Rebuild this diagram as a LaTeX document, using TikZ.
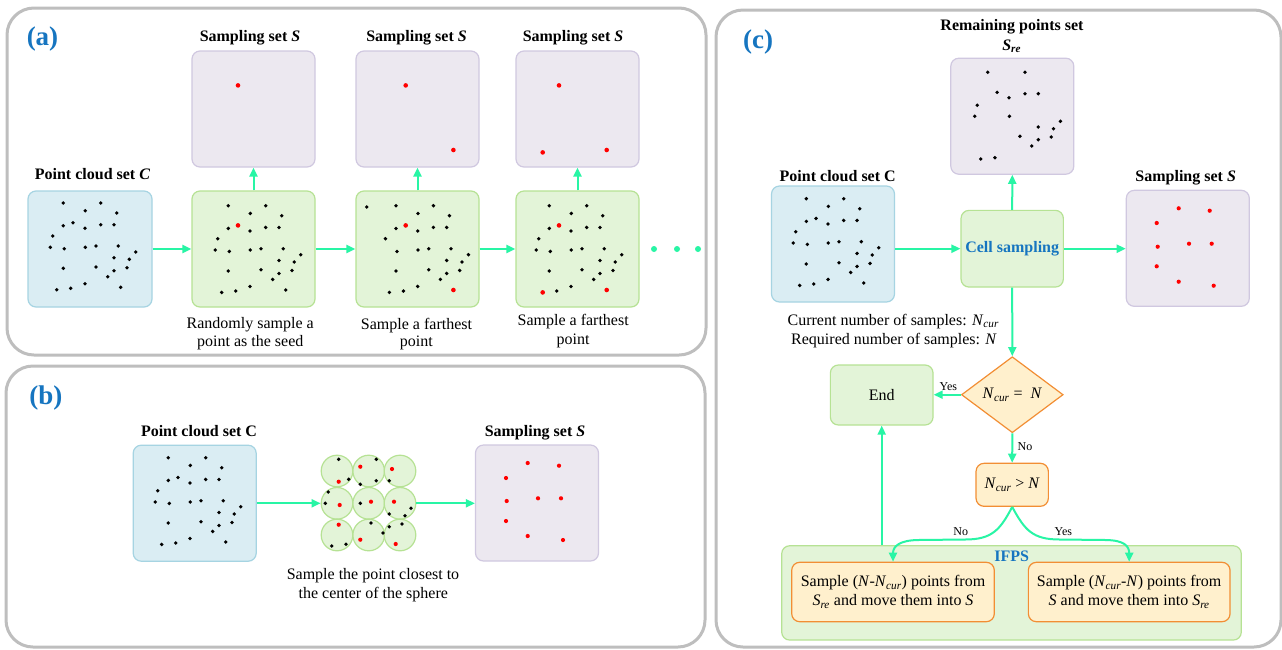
\documentclass[tikz,border=0pt]{standalone}
\usepackage{fontspec}
\setmainfont{Liberation Serif}
\usetikzlibrary{arrows.meta,shapes.geometric,calc}
\definecolor{panelgray}{RGB}{190,190,190}
\definecolor{bluefill}{RGB}{218,237,243}
\definecolor{blueedge}{RGB}{166,212,226}
\definecolor{greenfill}{RGB}{227,244,216}
\definecolor{greenedge}{RGB}{182,226,148}
\definecolor{purplefill}{RGB}{236,232,240}
\definecolor{purpleedge}{RGB}{208,200,224}
\definecolor{orangefill}{RGB}{255,240,205}
\definecolor{orangeedge}{RGB}{242,142,52}
\definecolor{arrowc}{RGB}{40,245,165}
\definecolor{labelblue}{RGB}{22,117,192}
\definecolor{redpt}{RGB}{255,0,0}
\newcommand{\Ncur}{\textit{N}\textsubscript{\textit{cur}}}
\newcommand{\Sre}{\textit{S}\textsubscript{\textit{re}}}
\def\cloudpts{35.3/12, 72.7/12, 57.3/19.7, 88.7/22, 45/31.7, 35.3/34.7, 57/37.3, 72.7/33.7, 86/33.7, 24.7/45, 22.3/56.3, 36.3/57.7, 57.3/56.3, 68/55, 90.3/55, 107.7/61, 86/66.7, 101.3/68.3, 35.3/77.3, 68/76, 86/79.7, 99/76.7, 79.7/85.7, 57/92.7, 28.7/98.7, 42.7/97.3, 92.7/96.3}
\newcommand{\ptcloud}[3]{%
  \begin{scope}[shift={(#1,#2)}]
  \foreach \px/\py [count=\k] in \cloudpts {\ifnum\k=#3\relax\else\fill[black] (\px,\py) circle (1.9pt);\fi}
  \end{scope}}
\tikzset{
  panel/.style={draw=panelgray, line width=3pt, rounded corners=27pt},
  box/.style={rounded corners=8pt, line width=1.2pt, inner sep=0pt, minimum width=123pt, minimum height=116pt},
  bluebx/.style={box, draw=blueedge, fill=bluefill},
  greenbx/.style={box, draw=greenedge, fill=greenfill},
  purplebx/.style={box, draw=purpleedge, fill=purplefill},
  orangebx/.style={rounded corners=8pt, line width=1.2pt, inner sep=0pt, draw=orangeedge, fill=orangefill, align=center},
  ttl/.style={font=\bfseries\fontsize{16pt}{19pt}\selectfont, anchor=base, inner sep=0pt},
  txt/.style={font=\fontsize{16pt}{19pt}\selectfont, anchor=base, inner sep=0pt},
  sm/.style={font=\fontsize{12pt}{14pt}\selectfont, anchor=base, inner sep=0pt},
  plabel/.style={font=\bfseries\fontsize{27pt}{30pt}\selectfont, text=labelblue, anchor=base, inner sep=0pt},
  arr/.style={draw=arrowc, line width=2pt, -{Triangle[length=9pt,width=8pt]}},
  rdot/.style={fill=redpt},
  sphere/.style={circle, draw=greenedge, fill=greenfill, line width=1.2pt, minimum size=31.6pt, inner sep=0pt}
}
\begin{document}
\begin{tikzpicture}[x=1pt,y=-1pt, font=\fontsize{16pt}{19pt}\selectfont]
\useasboundingbox (0,0) rectangle (1282,649);
\fill[white] (0,0) rectangle (1282,649);
% panels
\draw[panel] (7,8) rectangle (706,355);
\draw[panel] (6,366) rectangle (705,647);
\draw[panel] (716,10) rectangle (1281,647);
\node[plabel] (la) at (42.5,45) {(a)};
\node[plabel] (lb) at (45.8,404) {(b)};
\node[plabel] (lc) at (758,48.3) {(c)};

% ---------------- panel (a)
\node[bluebx, minimum width=124pt] (ca) at (90,249) {};
\node[greenbx] (ga1) at (253.5,249) {};
\node[greenbx] (ga2) at (417.5,249) {};
\node[greenbx] (ga3) at (577.5,249) {};
\node[purplebx] (pa1) at (253.5,109) {};
\node[purplebx] (pa2) at (417.5,109) {};
\node[purplebx] (pa3) at (577.5,109) {};
\node[ttl] (tca) at (92.5,179) {Point cloud set \textit{C}};
\node[ttl] (tpa1) at (250,41.5) {Sampling set \textit{S}};
\node[ttl] (tpa2) at (416.5,41.5) {Sampling set \textit{S}};
\node[ttl] (tpa3) at (573,41.5) {Sampling set \textit{S}};
\node[txt] (cap1a) at (250.2,328.3) {Randomly sample a};
\node[txt] (cap1b) at (250.3,346.7) {point as the seed};
\node[txt] (cap2a) at (416.5,329.3) {Sample a farthest};
\node[txt] (cap2b) at (416.4,346.7) {point};
\node[txt] (cap3a) at (573.2,325) {Sample a farthest};
\node[txt] (cap3b) at (573,344.5) {point};
\ptcloud{28}{191}{0}
\ptcloud{193}{193.7}{0}
\ptcloud{360.7}{193.7}{11}
\fill (366.7,207) circle (1.9pt);
\ptcloud{514}{193.7}{0}
\foreach \p in {(238,225.4),(405.7,225.4),(453.4,290),(559,225.4),(542.7,292.4),(606.7,290),
  (238,85.4),(405.7,85.4),(453.4,150),(559,85.4),(542.7,152.4),(606.7,150)}
  \fill[rdot] \p circle (2.3pt);
\draw[arr] (ca) -- (ga1);
\draw[arr] (ga1) -- (ga2);
\draw[arr] (ga2) -- (ga3);
\draw[arr] (ga1) -- (pa1);
\draw[arr] (ga2) -- (pa2);
\draw[arr] (ga3) -- (pa3);
\foreach \xx in {654,677,698} \fill[arrowc] (\xx,249) circle (3pt);

% ---------------- panel (b)
\node[bluebx] (cb) at (194.7,503.2) {};
\node[purplebx] (sb) at (537,503) {};
\node[ttl] (tcb) at (199,436) {Point cloud set C};
\node[ttl] (tsb) at (535,436) {Sampling set \textit{S}};
\ptcloud{133}{445.7}{0}
\foreach \cx [count=\i] in {337,368.7,400} {
  \foreach \cy [count=\j] in {471,503.3,535} {
    \node[sphere] (s\j\i) at (\cx,\cy) {};
  }
}
\foreach \p in {(338.7,459.3),(348.7,479.3),(376.3,459.3),(360.3,484.3),(376.3,480.7),(389.3,480.7),(328.3,492),(325.3,503.3),(360.3,503.3),(389.3,514),(411,508.3),(405,515.7),(331.7,546),(346,544.3),(371,523),(383,533),(389.3,526.7),(402,524)}
  \fill \p circle (1.9pt);
\foreach \p in {(338.7,481.7),(360.3,466.7),(392,469),(339.7,505),(371,501.7),(394,501.7),(338.7,524.7),(360.3,539.7),(395.7,544)}
  \fill[rdot] \p circle (2.1pt);
\foreach \p in {(527.7,463),(559,465.7),(506,478),(506.7,501),(538,498.3),(561,498.3),(506,521),(527.7,536),(563,540)}
  \fill[rdot] \p circle (2.1pt);
\draw[arr] (cb.east |- s21.west) -- (s21.west);
\draw[arr] (s23.east) -- (s23.east -| sb.west);
\node[txt] (capb1) at (373,579.3) {Sample the point closest to};
\node[txt] (capb2) at (373.3,598.3) {the center of the sphere};

% ---------------- panel (c)
\node[bluebx] (cc) at (833,244) {};
\node[purplebx] (rem) at (1012.3,116.2) {};
\node[greenbx, minimum width=102.3pt, minimum height=76.7pt, font=\bfseries\fontsize{16pt}{19pt}\selectfont, text=labelblue] (cell) at (1012.2,248.7) {Cell sampling};
\node[purplebx] (sc) at (1187.8,248.3) {};
\node[ttl] (trem1) at (1012,30.7) {Remaining points set};
\node[ttl] (trem2) at (1011.7,50) {\Sre};
\node[ttl] (tcc) at (837.7,181) {Point cloud set C};
\node[ttl] (tsc) at (1185.7,181) {Sampling set \textit{S}};
\ptcloud{771}{186.7}{0}
\foreach \p in {(987.7,72.3),(1025,72.3),(997.1,92.3),(1009,97.7),(1025,93.7),(1038.3,93.7),(977.2,105.3),(974.7,116.3),(1009.4,116.3),(1038.3,127),(1053.5,128.7),(1060.4,121.3),(1019.9,136.3),(1038.3,139.7),(1051.3,137),(1031.8,146),(980.8,159),(994.9,157.7)}
  \fill \p circle (1.9pt);
\foreach \p in {(1178.7,208.3),(1209.7,210.7),(1156.7,223),(1157.7,246.7),(1189,243.7),(1211.7,243.7),(1156.7,266.3),(1178.7,281.7),(1213.7,285.7)}
  \fill[rdot] \p circle (2.1pt);
\draw[arr] (cell.west -| cc.east) -- (cell.west);
\draw[arr] (cell.east) -- (cell.east -| sc.west);
\draw[arr] (cell.north) -- (rem.south);
\node[txt] (cur1) at (893.3,325) {Current number of samples: \Ncur};
\node[txt] (cur2) at (894,344) {Required number of samples: \textit{N}};
\node[diamond, aspect=1.34, draw=orangeedge, fill=orangefill, line width=1.2pt, minimum width=101.7pt, minimum height=76pt, inner sep=0pt] (dia) at (1012.3,394.7) {\Ncur\ = \ \textit{N}};
\node[greenbx, minimum width=102.7pt, minimum height=60pt] (endb) at (881.7,395) {End};
\node[orangebx, minimum width=72.3pt, minimum height=43pt] (cmp) at (1012.2,484.8) {\Ncur{} {>} \textit{N}};
\node[greenbx, minimum width=459.6pt, minimum height=94.3pt] (ifps) at (1011.5,592.9) {};
\node[orangebx, minimum width=202.6pt, minimum height=59.4pt] (lbox) at (893,592) {Sample (\textit{N}-\Ncur) points from\\ \Sre{} and move them into \textit{S}};
\node[orangebx, minimum width=201.7pt, minimum height=59.4pt] (rbox) at (1129.2,592) {Sample (\Ncur-\textit{N}) points from\\ \textit{S} and move them into \Sre};
\node[ttl, text=labelblue] (tifps) at (1011.7,561.7) {IFPS};
\draw[arr] (cell.south) -- (dia.north);
\draw[arr] (dia.west) -- (dia.west -| endb.east);
\draw[arr] (dia.south) -- (cmp.north);
\draw[arr] (ifps.north -| endb.south) -- (endb.south);
\draw[arr] (cmp.south) .. controls (1000,530) and (992,539.5) .. (965,539.5) -- (918,540) .. controls (900,540.3) and (893,546) .. (lbox.north);
\draw[arr] (cmp.south) .. controls (1024.6,530) and (1032.6,539.5) .. (1059.6,539.5) -- (1106,540) .. controls (1124,540.3) and (1129.2,546) .. (rbox.north);
\node[sm] (ly1) at (948.3,390.7) {Yes};
\node[sm] (ln1) at (1025,450) {No};
\node[sm] (ln2) at (960.7,535) {No};
\node[sm] (ly2) at (1063.3,535) {Yes};
\end{tikzpicture}
\end{document}
